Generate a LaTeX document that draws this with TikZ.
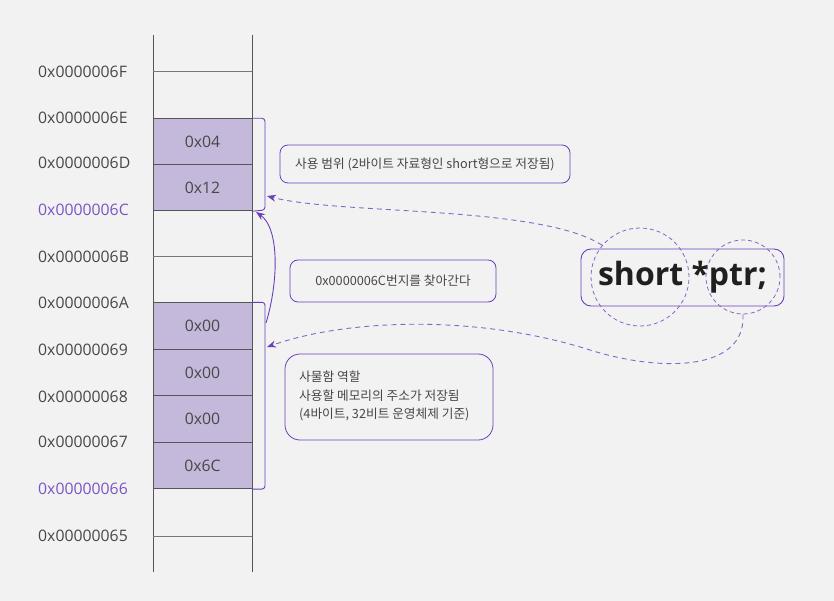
\documentclass[tikz,border=0pt]{standalone}
\usepackage{fontspec}
\setmainfont{Open Sans}
\newfontfamily\kr{Noto Sans CJK KR}
\usetikzlibrary{arrows.meta}
\definecolor{bg}{HTML}{F2F2F2}
\definecolor{pur}{HTML}{6A40BA}
\definecolor{purl}{HTML}{8466C6}
\definecolor{cellc}{HTML}{C4B9DB}
\definecolor{txt}{HTML}{474747}
\definecolor{addrp}{HTML}{7A55C4}
\definecolor{rail}{HTML}{555555}
\begin{document}
\begin{tikzpicture}[x=1pt,y=-1pt,
  addr/.style={anchor=west,inner sep=0pt,text=txt,font=\fontsize{15.8}{18}\selectfont},
  cell/.style={draw=rail,line width=0.9pt,fill=cellc,minimum width=99pt,minimum height=46.5pt,inner sep=0pt,text=txt,font=\fontsize{15.8}{18}\selectfont},
  note/.style={draw=pur,line width=0.8pt,rounded corners=8pt,inner sep=0pt,text=txt,font=\kr\fontsize{12.7}{18.5}\selectfont},
  bracket/.style={draw=pur,line width=0.9pt,rounded corners=3pt},
  dcirc/.style={draw=purl,line width=0.8pt,dash pattern=on 4pt off 3pt,circle,inner sep=0pt},
  darrow/.style={draw=purl,line width=0.9pt,dash pattern=on 5pt off 4pt,-{Stealth[length=9pt,width=7pt,color=pur]}},
  sarrow/.style={draw=pur,line width=0.9pt,-{Stealth[length=9pt,width=7pt]}}
]
\fill[bg] (0,0) rectangle (834,601);
\useasboundingbox (0,0) rectangle (834,601);

% rails
\draw[rail,line width=1pt] (153,35) -- (153,572);
\draw[rail,line width=1pt] (252,35) -- (252,572);
\foreach \yy in {72,257,536} \draw[rail!80,line width=1pt] (153,\yy) -- (252,\yy);

% address labels
\node[addr] (a6F) at (38,72) {0x0000006F};
\node[addr] (a6E) at (38,118) {0x0000006E};
\node[addr] (a6D) at (38,163) {0x0000006D};
\node[addr,text=addrp] (a6C) at (38,210) {0x0000006C};
\node[addr] (a6B) at (38,257) {0x0000006B};
\node[addr] (a6A) at (38,303) {0x0000006A};
\node[addr] (a69) at (38,350) {0x00000069};
\node[addr] (a68) at (38,397) {0x00000068};
\node[addr] (a67) at (38,442) {0x00000067};
\node[addr,text=addrp] (a66) at (38,489) {0x00000066};
\node[addr] (a65) at (38,536) {0x00000065};

% cells
\node[cell] (c04) at (202.5,142) {0x04};
\node[cell] (c12) at (202.5,187.5) {0x12};
\node[cell] (c00a) at (202.5,326) {0x00};
\node[cell] (c00b) at (202.5,372.5) {0x00};
\node[cell] (c00c) at (202.5,419) {0x00};
\node[cell] (c6C) at (202.5,465.5) {0x6C};

% brackets
\draw[bracket] (c04.north east) -| (265,210) -- (c12.south east);
\draw[bracket] (c00a.north east) -| (265,489) -- (c6C.south east);
\coordinate (t1) at (267,196);
\coordinate (t2) at (267,347);
\coordinate (s3) at (266,323);
\coordinate (t3) at (256,212);

% notes
\node[note,minimum width=290pt,minimum height=38pt] (n1) at (425,164) {사용 범위 (2바이트 자료형인 short형으로 저장됨)};
\node[note,minimum width=206pt,minimum height=42pt] (n2) at (393,281) {0x0000006C번지를 찾아간다};
\node[note,rounded corners=15pt,minimum width=208pt,minimum height=86pt] (n3) at (389,397) {};
\node[anchor=west,inner sep=0pt,text=txt,font=\kr\fontsize{12.7}{18.5}\selectfont,align=left] (n3t) at (299,396)
  {사물함 역할\\사용할 메모리의 주소가 저장됨\\(4바이트, 32비트 운영체제 기준)};

% declaration
\node[draw=pur,line width=0.9pt,rounded corners=10pt,minimum width=203pt,minimum height=57pt,inner sep=0pt,
  text=black!88,font=\bfseries\fontsize{32}{36}\selectfont] (decl) at (682.5,277.5) {short *ptr;};
\node[dcirc,minimum size=98pt] (cs) at (640,277) {};
\node[dcirc,minimum size=74pt] (cp) at (743,277) {};

% arrows
\draw[darrow] (cs.140) .. controls (540,205) and (340,215) .. (t1);
\draw[darrow] (cp.south) .. controls (746,372) and (660,372) .. (590,350)
  .. controls (480,315) and (350,318) .. (t2);
\draw[sarrow] (s3) .. controls (279,280) and (279,228) .. (t3);
\end{tikzpicture}
\end{document}
